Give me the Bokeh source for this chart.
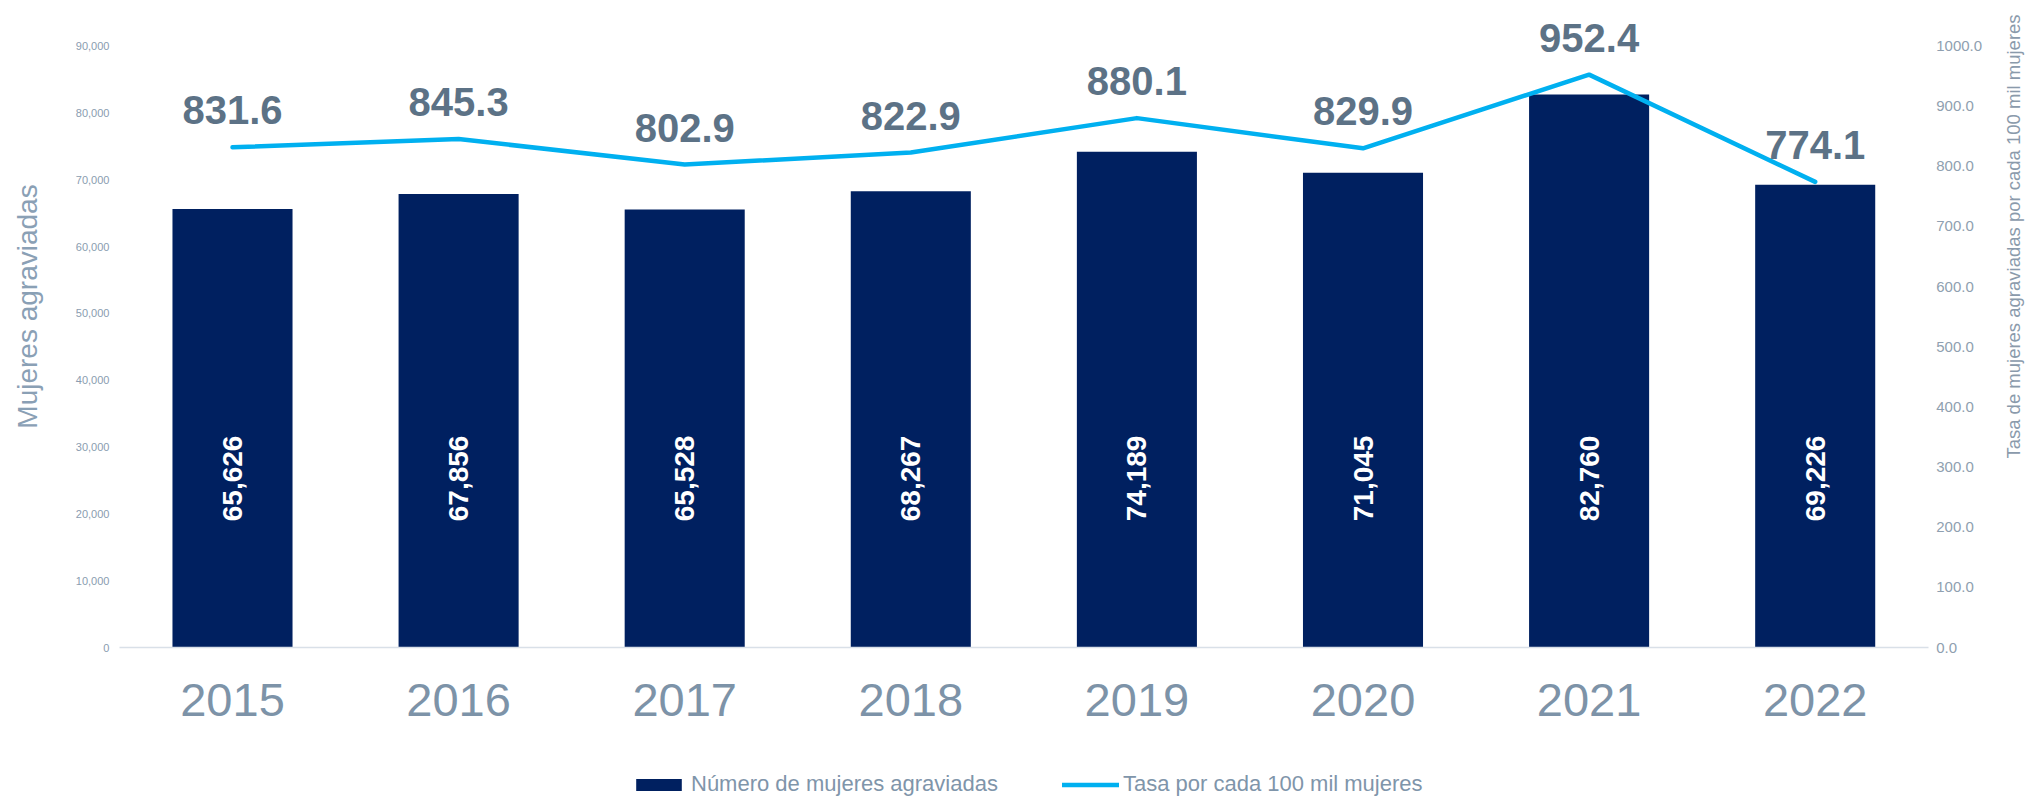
from math import pi
from bokeh.plotting import figure
from bokeh.models import (ColumnDataSource, Range1d, LinearAxis, FixedTicker,
                          NumeralTickFormatter, Legend, LegendItem, Label)
from bokeh.core.properties import value
from bokeh.embed import file_html
from bokeh.resources import INLINE

# ---- data ----
years = ["2015", "2016", "2017", "2018", "2019", "2020", "2021", "2022"]
victims = [65626, 67856, 65528, 68267, 74189, 71045, 82760, 69226]
rate = [831.6, 845.3, 802.9, 822.9, 880.1, 829.9, 952.4, 774.1]
left_ticks = [0, 10000, 20000, 30000, 40000, 50000, 60000, 70000, 80000, 90000]
right_ticks = [0, 100, 200, 300, 400, 500, 600, 700, 800, 900, 1000]
bar_name = "Número de mujeres agraviadas"
line_name = "Tasa por cada 100 mil mujeres"
left_title = "Mujeres agraviadas"
right_title = "Tasa de mujeres agraviadas por cada 100 mil mujeres"

FONT = "Liberation Sans"
BAR = "#002060"
LINE = "#00b0f0"

W, H = 2026, 798
# canvas geometry (frame fills the whole canvas; axes are placed with fixed_location)
SLOT = 226.1          # px per category
X0 = 232.0            # px of first category centre
BASE = 647.0          # px of zero line
PX90K = 601.5         # px height of 90,000
ypp = 90000 / PX90K
xpos = list(range(len(years)))

src = ColumnDataSource(dict(
    x=xpos,
    victims=victims,
    rate=rate,
    vlabel=[f"{v:,}" for v in victims],
    rlabel=[f"{r:.1f}" for r in rate],
))

p = figure(width=W, height=H,
           x_range=Range1d(-X0 / SLOT, (W - X0) / SLOT),
           y_range=Range1d(-(H - BASE) * ypp, BASE * ypp),
           output_backend="svg", toolbar_location=None,
           min_border=0, min_border_left=0, min_border_right=0,
           min_border_top=0, min_border_bottom=0)
p.extra_y_ranges = {"rate": Range1d(-(H - BASE) * ypp / 90, BASE * ypp / 90)}
p.outline_line_color = None
p.xgrid.grid_line_color = None
p.ygrid.grid_line_color = None
p.background_fill_color = "white"
p.border_fill_color = "white"

bars = p.vbar(x="x", top="victims", width=0.531, source=src,
              fill_color=BAR, line_color=None)
line = p.line(x="x", y="rate", source=src, y_range_name="rate",
              line_color=LINE, line_width=4.5, line_join="round", line_cap="round")

# bar labels (rotated, white)
p.text(x="x", y=25300, text="vlabel", source=src, angle=pi / 2,
       text_align="center", text_baseline="middle", text_color="white",
       text_font=value(FONT), text_font_size="28px", text_font_style="bold")

# rate labels
p.text(x="x", y="rate", text="rlabel", source=src, y_range_name="rate",
       y_offset=-37, text_align="center", text_baseline="middle",
       text_color="#5c7286", text_font=value(FONT), text_font_size="40px",
       text_font_style="bold")

# x axis (at zero line)
xa = p.xaxis[0]
xa.fixed_location = 0
xa.bounds = (-0.5, len(years) - 0.5)
xa.ticker = FixedTicker(ticks=xpos)
xa.major_label_overrides = {i: y for i, y in zip(xpos, years)}
xa.axis_line_color = "#d9e0e8"
xa.axis_line_width = 1.5
xa.major_tick_line_color = None
xa.minor_tick_line_color = None
xa.major_tick_out = 0
xa.major_tick_in = 0
xa.minor_tick_out = 0
xa.major_label_standoff = 36
xa.major_label_text_font = FONT
xa.major_label_text_font_size = "47px"
xa.major_label_text_color = "#7d93a8"

# left axis
ya = p.yaxis[0]
ya.fixed_location = -0.5
ya.ticker = FixedTicker(ticks=left_ticks)
ya.formatter = NumeralTickFormatter(format="0,0")
ya.axis_line_color = None
ya.major_tick_line_color = None
ya.minor_tick_line_color = None
ya.major_tick_out = 0
ya.major_tick_in = 0
ya.minor_tick_out = 0
ya.major_label_standoff = 10
ya.major_label_text_font = FONT
ya.major_label_text_font_size = "11px"
ya.major_label_text_color = "#8a9cb0"

# right axis
ra = LinearAxis(y_range_name="rate", ticker=FixedTicker(ticks=right_ticks),
                formatter=NumeralTickFormatter(format="0.0"))
ra.fixed_location = len(years) - 0.5
ra.axis_line_color = None
ra.major_tick_line_color = None
ra.minor_tick_line_color = None
ra.major_tick_out = 0
ra.major_tick_in = 0
ra.minor_tick_out = 0
ra.major_label_standoff = 8
ra.major_label_text_font = FONT
ra.major_label_text_font_size = "15px"
ra.major_label_text_color = "#8f9fb0"
p.add_layout(ra, "right")

# axis titles
p.add_layout(Label(x=(27 - X0) / SLOT, y=(BASE - 306) * ypp, text=left_title, angle=pi / 2,
                   text_align="center", text_baseline="middle",
                   text_font=FONT, text_font_size="28px", text_color="#8aa0b5"))
p.add_layout(Label(x=(2013 - X0) / SLOT, y=(BASE - 236) * ypp, text=right_title, angle=pi / 2,
                   text_align="center", text_baseline="middle",
                   text_font=FONT, text_font_size="18.5px", text_color="#8a9aab"))

legend = Legend(items=[LegendItem(label=bar_name, renderers=[bars]),
                       LegendItem(label=line_name, renderers=[line])],
                orientation="horizontal", location=(630, 1),
                glyph_width=57, glyph_height=15, label_standoff=4, spacing=64,
                padding=0, margin=0, border_line_alpha=0, background_fill_alpha=0,
                label_text_font=FONT, label_text_font_size="22px",
                label_text_color="#7f95aa")
p.add_layout(legend, "center")

open("out.html", "w").write(file_html(p, INLINE))
